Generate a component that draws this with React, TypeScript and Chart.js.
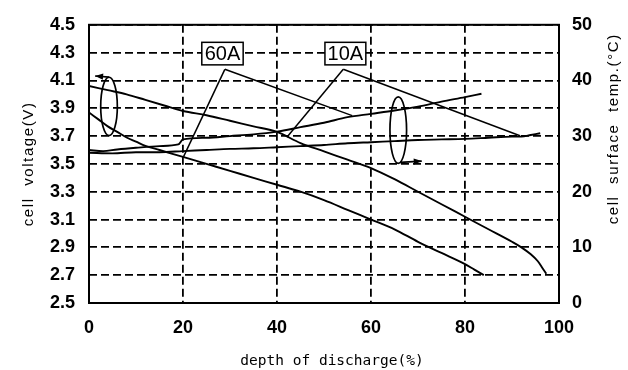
import React, { useEffect, useRef } from 'react';
import { Chart, registerables } from 'chart.js';

Chart.register(...registerables);

// ---- data (depth of discharge %, cell voltage V, surface temperature °C) ----
const dod60V = [0, 2, 4, 6, 8, 10, 12, 15, 20, 25, 30, 35, 40, 45, 50, 55, 60, 65, 70, 75, 80, 82, 84];
const volt60 = [3.87, 3.82, 3.77, 3.73, 3.69, 3.66, 3.63, 3.6, 3.55, 3.5, 3.45, 3.4, 3.35, 3.3, 3.24, 3.17, 3.1, 3.03, 2.94, 2.86, 2.78, 2.74, 2.7];

const dod10V = [0, 4, 8, 12, 16, 20, 25, 30, 35, 40, 45, 50, 55, 60, 65, 70, 75, 80, 85, 90, 92, 94, 95.5, 96.5, 97.3];
const volt10 = [4.06, 4.03, 4.0, 3.96, 3.92, 3.88, 3.85, 3.81, 3.77, 3.73, 3.65, 3.59, 3.53, 3.47, 3.39, 3.3, 3.21, 3.12, 3.03, 2.94, 2.9, 2.85, 2.8, 2.75, 2.71];

const dod60T = [0, 3, 6, 10, 15, 19, 20, 25, 30, 35, 40, 45, 50, 55, 60, 65, 70, 75, 80, 83.5];
const temp60 = [27.5, 27.3, 27.6, 27.9, 28.2, 28.5, 29.4, 29.7, 30.0, 30.3, 30.8, 31.6, 32.4, 33.4, 34.0, 34.6, 35.3, 36.2, 37.0, 37.6];

const dod10T = [0, 5, 10, 15, 20, 25, 30, 35, 40, 45, 50, 55, 60, 65, 70, 75, 80, 85, 90, 92, 94, 96];
const temp10 = [27.0, 26.9, 27.1, 27.1, 27.3, 27.5, 27.7, 27.8, 28.0, 28.2, 28.4, 28.7, 28.9, 29.1, 29.3, 29.4, 29.5, 29.7, 29.9, 29.9, 30.2, 30.5];

// axis settings
const X_MIN = 0, X_MAX = 100, X_STEP = 20;
const V_MIN = 2.5, V_MAX = 4.5, V_STEP = 0.2;
const T_MIN = 0, T_MAX = 50, T_STEP = 10;

const X_TITLE = 'depth of discharge(%)';
const Y_TITLE = 'cell  voltage(V)';
const Y2_TITLE = 'cell  surface  temp.(°C)';

// callouts (data units: x in %, y in V)
const CALLOUT_TEXT = ['60A', '10A'];
const CALLOUT_BOX_X = [[24.0, 32.8], [50.2, 58.9]];
const CALLOUT_BOX_Y = [4.374, 4.212];
const CALLOUT_APEX = [[28.9, 4.18], [54.1, 4.18]];
const CALLOUT_ENDS = [
  [[20.1, 3.551], [56.0, 3.847]],
  [[42.1, 3.691], [91.7, 3.702]],
];

// axis-indicator ellipses with arrows
const MARK_CENTER = [[4.26, 3.913], [65.8, 3.743]];
const MARK_RADII = [[1.77, 0.21], [1.77, 0.239]];
const MARK_ARROW = [
  [[4.3, 4.124], [1.3, 4.132]],
  [[66.2, 3.511], [70.8, 3.52]],
];

const toPts = (xs: number[], ys: number[]) => xs.map((x, i) => ({ x, y: ys[i] }));

const lineStyle = {
  borderColor: '#000',
  borderWidth: 1.9,
  pointRadius: 0,
  fill: false,
  cubicInterpolationMode: 'monotone' as const,
};

const tickFont = { family: '"Liberation Sans Narrow", "Liberation Sans", Arial, sans-serif', size: 18, weight: 'bold' as const };

function arrowHead(ctx: CanvasRenderingContext2D, x0: number, y0: number, x1: number, y1: number) {
  const ang = Math.atan2(y1 - y0, x1 - x0);
  const len = 8, hw = 3.2;
  ctx.beginPath();
  ctx.moveTo(x1, y1);
  ctx.lineTo(x1 - len * Math.cos(ang) + hw * Math.sin(ang), y1 - len * Math.sin(ang) - hw * Math.cos(ang));
  ctx.lineTo(x1 - len * Math.cos(ang) - hw * Math.sin(ang), y1 - len * Math.sin(ang) + hw * Math.cos(ang));
  ctx.closePath();
  ctx.fill();
}

const annotPlugin = {
  id: 'annot',
  afterDatasetsDraw(chart: any) {
    const { ctx, chartArea: a, scales } = chart;
    const xs = scales.x, ys = scales.y;
    const px = (v: number) => xs.getPixelForValue(v);
    const py = (v: number) => ys.getPixelForValue(v);
    ctx.save();
    ctx.strokeStyle = '#000';
    ctx.fillStyle = '#000';
    ctx.setLineDash([]);

    // frame
    ctx.lineWidth = 2;
    ctx.strokeRect(a.left, a.top, a.right - a.left, a.bottom - a.top);

    // leader lines
    ctx.lineWidth = 1.5;
    CALLOUT_APEX.forEach((ap, i) => {
      CALLOUT_ENDS[i].forEach((e) => {
        ctx.beginPath();
        ctx.moveTo(px(ap[0]), py(ap[1]));
        ctx.lineTo(px(e[0]), py(e[1]));
        ctx.stroke();
      });
    });

    // callout boxes
    CALLOUT_TEXT.forEach((t, i) => {
      const x0 = px(CALLOUT_BOX_X[i][0]), x1 = px(CALLOUT_BOX_X[i][1]);
      const y0 = py(CALLOUT_BOX_Y[0]), y1 = py(CALLOUT_BOX_Y[1]);
      ctx.fillStyle = '#fff';
      ctx.fillRect(x0, y0, x1 - x0, y1 - y0);
      ctx.lineWidth = 1.5;
      ctx.strokeRect(x0, y0, x1 - x0, y1 - y0);
      ctx.fillStyle = '#000';
      ctx.font = '20px "Liberation Sans", Arial, sans-serif';
      ctx.textAlign = 'center';
      ctx.textBaseline = 'middle';
      ctx.fillText(t, (x0 + x1) / 2, (y0 + y1) / 2 + 1);
    });

    // ellipses and arrows
    ctx.lineWidth = 1.7;
    MARK_CENTER.forEach((c, i) => {
      const cx = px(c[0]), cy = py(c[1]);
      const rx = px(c[0] + MARK_RADII[i][0]) - cx;
      const ry = cy - py(c[1] + MARK_RADII[i][1]);
      ctx.beginPath();
      ctx.ellipse(cx, cy, rx, ry, 0, 0, Math.PI * 2);
      ctx.stroke();
      const [s, e] = MARK_ARROW[i];
      const sx = px(s[0]), sy = py(s[1]), ex = px(e[0]), ey = py(e[1]);
      ctx.beginPath();
      ctx.moveTo(sx, sy);
      ctx.lineTo(ex, ey);
      ctx.stroke();
      arrowHead(ctx, sx, sy, ex, ey);
    });
    ctx.restore();
  },
  afterDraw(chart: any) {
    const { ctx, chartArea: a } = chart;
    ctx.save();
    ctx.fillStyle = '#000';
    ctx.textAlign = 'center';
    ctx.textBaseline = 'middle';

    // x title
    ctx.font = '14.5px "DejaVu Sans Mono", monospace';
    ctx.fillText(X_TITLE, (a.left + a.right) / 2 + 8, a.bottom + 58);

    // left title
    ctx.font = '15px "Liberation Sans", Arial, sans-serif';
    (ctx as any).letterSpacing = '1.6px';
    ctx.save();
    ctx.translate(29, (a.top + a.bottom) / 2);
    ctx.rotate(-Math.PI / 2);
    ctx.fillText(Y_TITLE, 0, 0);
    ctx.restore();

    // right title (reads bottom-to-top)
    ctx.save();
    ctx.translate(a.right + 55, a.top + 104);
    ctx.rotate(-Math.PI / 2);
    ctx.fillText(Y2_TITLE, 0, 0);
    ctx.restore();
    ctx.restore();
  },
};

export default function App() {
  const ref = useRef<HTMLCanvasElement>(null);
  useEffect(() => {
    document.body.style.margin = '0';
    const chart = new Chart(ref.current!, {
      type: 'line',
      data: {
        datasets: [
          { label: '60A voltage', data: toPts(dod60V, volt60), yAxisID: 'y', ...lineStyle },
          { label: '10A voltage', data: toPts(dod10V, volt10), yAxisID: 'y', ...lineStyle },
          { label: '60A temp', data: toPts(dod60T, temp60), yAxisID: 'y2', ...lineStyle },
          { label: '10A temp', data: toPts(dod10T, temp10), yAxisID: 'y2', ...lineStyle },
        ],
      },
      options: {
        responsive: false,
        animation: false,
        layout: { padding: { top: 18, left: 0, right: 0, bottom: 0 } },
        plugins: { legend: { display: false }, tooltip: { enabled: false } },
        scales: {
          x: {
            type: 'linear',
            min: X_MIN,
            max: X_MAX,
            ticks: { stepSize: X_STEP, color: '#000', font: tickFont, padding: 14, maxRotation: 0 },
            grid: { color: '#000', lineWidth: 1.8, drawTicks: false },
            border: { display: false, dash: [8, 4] },
            afterFit: (s: any) => { s.height = 67; },
          },
          y: {
            type: 'linear',
            position: 'left',
            min: V_MIN,
            max: V_MAX,
            ticks: { stepSize: V_STEP, color: '#000', font: tickFont, padding: 14, callback: (v: any) => Number(v).toFixed(1) },
            grid: { color: '#000', lineWidth: 1.8, drawTicks: false },
            border: { display: false, dash: [8, 4] },
            afterFit: (s: any) => { s.width = 89; },
          },
          y2: {
            type: 'linear',
            position: 'right',
            min: T_MIN,
            max: T_MAX,
            ticks: { stepSize: T_STEP, color: '#000', font: tickFont, padding: 13 },
            grid: { display: false, drawTicks: false },
            border: { display: false },
            afterFit: (s: any) => { s.width = 69; },
          },
        },
      },
      plugins: [annotPlugin],
    } as any);
    return () => chart.destroy();
  }, []);
  return (
    <div style={{ width: 628, height: 370 }}>
      <canvas ref={ref} width={628} height={370} />
    </div>
  );
}
